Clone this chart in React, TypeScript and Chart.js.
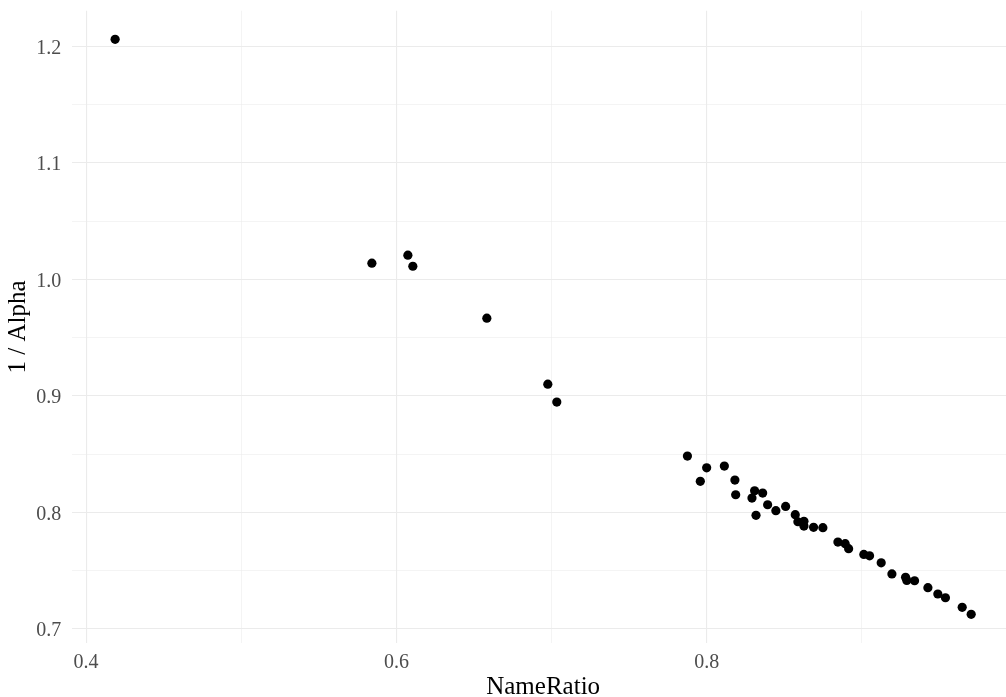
import React, { useEffect, useRef } from "react";
import { Chart, registerables } from "chart.js";

Chart.register(...registerables);

// NameRatio (x) and 1 / Alpha (y)
const nameRatio = [
  0.4187, 0.5842, 0.6074, 0.6106, 0.6583, 0.6976, 0.7034,
  0.7876, 0.8000, 0.7959, 0.8114, 0.8182, 0.8187, 0.8309, 0.8361, 0.8292,
  0.8318, 0.8393, 0.8446, 0.8509, 0.8571, 0.8588, 0.8627, 0.8627, 0.8689,
  0.8749, 0.8846, 0.8893, 0.8915, 0.9013, 0.9050, 0.9125, 0.9194, 0.9282,
  0.9290, 0.9340, 0.9426, 0.9490, 0.9539, 0.9647, 0.9705,
];
const invAlpha = [
  1.206, 1.0139, 1.0208, 1.0113, 0.9667, 0.9101, 0.8947,
  0.8484, 0.8383, 0.8267, 0.8398, 0.8278, 0.8152, 0.8186, 0.8166, 0.8123,
  0.7975, 0.8066, 0.8015, 0.8052, 0.7981, 0.7920, 0.7924, 0.7883, 0.7872,
  0.7869, 0.7746, 0.7732, 0.7689, 0.7640, 0.7628, 0.7568, 0.7472, 0.7443,
  0.7417, 0.7414, 0.7354, 0.7300, 0.7268, 0.7186, 0.7126,
];

const xMajor = [0.4, 0.6, 0.8];
const xMinor = [0.5, 0.7, 0.9];
const yMajor = [0.7, 0.8, 0.9, 1.0, 1.1, 1.2];
const yMinor = [0.75, 0.85, 0.95, 1.05, 1.15];

const xTitle = "NameRatio";
const yTitle = "1 / Alpha";

const X_MIN = 0.3911;
const X_MAX = 0.9981;
const Y_MIN = 0.6877;
const Y_MAX = 1.2306;

const isMajor = (v: number, majors: number[]) =>
  majors.some((m) => Math.abs(m - v) < 1e-9);

const FONT = "'Liberation Serif', 'Times New Roman', serif";

export default function App() {
  const ref = useRef<HTMLCanvasElement | null>(null);

  useEffect(() => {
    if (!ref.current) return;
    const xTicks = [...xMajor, ...xMinor].sort((a, b) => a - b);
    const yTicks = [...yMajor, ...yMinor].sort((a, b) => a - b);
    const points = nameRatio.map((x, i) => ({ x, y: invAlpha[i] }));

    const chart = new Chart(ref.current, {
      type: "scatter",
      data: {
        datasets: [
          {
            data: points,
            backgroundColor: "#000000",
            borderColor: "#000000",
            borderWidth: 0,
            pointRadius: 4.6,
            pointHoverRadius: 4.6,
          },
        ],
      },
      options: {
        responsive: false,
        animation: false,
        events: [],
        layout: {
          autoPadding: false,
          padding: { top: 10.7, left: 0, right: 0, bottom: 0 },
        },
        plugins: {
          legend: { display: false },
          tooltip: { enabled: false },
          title: { display: false },
        },
        scales: {
          x: {
            type: "linear",
            position: "bottom",
            min: X_MIN,
            max: X_MAX,
            afterBuildTicks: (scale: any) => {
              scale.ticks = xTicks.map((v) => ({ value: v }));
            },
            afterFit: (scale: any) => {
              scale.height = 697 - 643.3;
              scale.paddingLeft = 0;
              scale.paddingRight = 0;
            },
            border: { display: false },
            grid: {
              drawTicks: false,
              color: "#EBEBEB",
              lineWidth: (ctx: any) =>
                ctx.tick && isMajor(ctx.tick.value, xMajor) ? 1.1 : 0.55,
            },
            ticks: {
              autoSkip: false,
              maxRotation: 0,
              minRotation: 0,
              padding: 7,
              color: "#4D4D4D",
              font: { family: FONT, size: 20 },
              callback: (v: any) =>
                isMajor(Number(v), xMajor) ? Number(v).toFixed(1) : "",
            },
            title: {
              display: true,
              text: xTitle,
              color: "#000000",
              font: { family: FONT, size: 25, lineHeight: 0.8 },
              padding: { top: 0, bottom: 0 },
            },
          },
          y: {
            type: "linear",
            position: "left",
            min: Y_MIN,
            max: Y_MAX,
            afterBuildTicks: (scale: any) => {
              scale.ticks = yTicks.map((v) => ({ value: v }));
            },
            afterFit: (scale: any) => {
              scale.width = 72.3;
              scale.paddingTop = 0;
              scale.paddingBottom = 0;
            },
            border: { display: false },
            grid: {
              drawTicks: false,
              color: "#EBEBEB",
              lineWidth: (ctx: any) =>
                ctx.tick && isMajor(ctx.tick.value, yMajor) ? 1.1 : 0.55,
            },
            ticks: {
              autoSkip: false,
              padding: 11,
              labelOffset: 2,
              color: "#4D4D4D",
              font: { family: FONT, size: 20 },
              callback: (v: any) =>
                isMajor(Number(v), yMajor) ? Number(v).toFixed(1) : "",
            },
            title: {
              display: true,
              text: yTitle,
              color: "#000000",
              font: { family: FONT, size: 25, lineHeight: 0.8 },
              padding: { top: 8, bottom: 0 },
            },
          },
        },
      },
    } as any);

    return () => chart.destroy();
  }, []);

  return (
    <div
      style={{
        position: "fixed",
        left: 0,
        top: 0,
        width: 1006,
        height: 697,
        overflow: "hidden",
        background: "#ffffff",
      }}
    >
      <canvas
        ref={ref}
        width={1014}
        height={697}
        style={{ width: 1014, height: 697, display: "block" }}
      />
    </div>
  );
}
